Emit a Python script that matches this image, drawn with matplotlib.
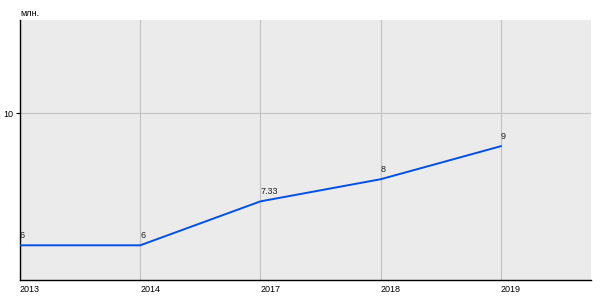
import matplotlib
matplotlib.use('Agg')
from matplotlib import pyplot as plt

years = ['2013', '2014', '2017', '2018', '2019']
values = [6, 6, 7.33, 8, 9]
value_labels = ['6', '6', '7.33', '8', '9']

plt.rcParams['font.family'] = ['Liberation Sans', 'DejaVu Sans']

fig = plt.figure(figsize=(6, 3), dpi=100)
ax = fig.add_axes([20 / 600, 20 / 300, 571 / 600, 260 / 300])
ax.set_facecolor('#ebebeb')

x = list(range(len(years)))
ax.plot(x, values, color='#0050e6', linewidth=1.4, zorder=3)

for xi, v, lab in zip(x, values, value_labels):
    ax.annotate(lab, (xi, v), xytext=(0, 4), textcoords='offset points',
                ha='left', va='bottom', fontsize=6.5, color='#222222')

ax.set_xlim(0, 4.75)
ax.set_ylim(4.95, 12.82)
ax.set_xticks(x)
ax.set_xticklabels(years, ha='left', fontsize=6.5)
ax.set_yticks([10])
ax.set_yticklabels(['10'], fontsize=6.5)
ax.tick_params(axis='x', length=0, pad=3.5)
ax.tick_params(axis='y', length=3, pad=1.5)

ax.grid(True, color='#c4c4c4', linewidth=0.9)
ax.set_axisbelow(True)
for side in ['top', 'right']:
    ax.spines[side].set_visible(False)
for side in ['left', 'bottom']:
    ax.spines[side].set_color('black')
    ax.spines[side].set_linewidth(1.0)

fig.text(20 / 600, 1 - 13 / 300, 'млн.', fontsize=6.5, ha='left', va='center')

fig.savefig('out.png', dpi=100)
